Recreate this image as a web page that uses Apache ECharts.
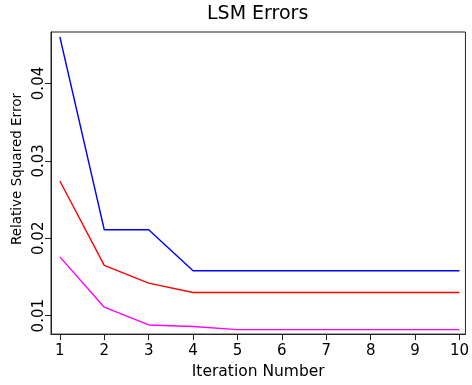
<!DOCTYPE html>
<html><head><meta charset="utf-8">
<script src="https://cdn.jsdelivr.net/npm/echarts@6/dist/echarts.min.js"></script>
<style>html,body{margin:0;padding:0;background:#fff}#c{width:472px;height:385px}</style>
</head><body><div id="c"></div>
<script>
var iterations = [1, 2, 3, 4, 5, 6, 7, 8, 9, 10];
var blueErrors = [0.0460, 0.0211, 0.0211, 0.0158, 0.0158, 0.0158, 0.0158, 0.0158, 0.0158, 0.0158];
var redErrors = [0.0274, 0.0165, 0.0142, 0.0130, 0.0130, 0.0130, 0.0130, 0.0130, 0.0130, 0.0130];
var magentaErrors = [0.0176, 0.0111, 0.0088, 0.0086, 0.0082, 0.0082, 0.0082, 0.0082, 0.0082, 0.0082];
var xTicks = [1, 2, 3, 4, 5, 6, 7, 8, 9, 10];
var yTicks = [0.01, 0.02, 0.03, 0.04];

function pairs(vals) { return iterations.map(function (x, i) { return [x, vals[i]]; }); }
var font = 'DejaVu Sans';
var chart = echarts.init(document.getElementById('c'));
chart.setOption({
  animation: false,
  backgroundColor: '#fff',
  title: {
    text: 'LSM Errors', left: 207, top: 5, padding: 0,
    textStyle: { fontFamily: font, fontSize: 19, fontWeight: 'normal', color: '#000' }
  },
  grid: { left: 51, right: 6, top: 32, bottom: 42, show: true, borderColor: '#222', borderWidth: 1, containLabel: false },
  xAxis: {
    type: 'value', min: 0.8, max: 10.135,
    name: 'Iteration Number', nameLocation: 'middle', nameGap: 27,
    nameTextStyle: { fontFamily: font, fontSize: 15.5, color: '#000' },
    axisLine: { show: true, onZero: false, lineStyle: { color: '#222' } },
    axisTick: { show: true, inside: false, length: 6, customValues: xTicks, lineStyle: { color: '#222' } },
    axisLabel: { customValues: xTicks, margin: 10, fontFamily: font, fontSize: 15, color: '#000' },
    splitLine: { show: false }
  },
  yAxis: {
    type: 'value', min: 0.00762, max: 0.04665,
    name: 'Relative Squared Error', nameLocation: 'middle', nameGap: 21, nameRotate: 90,
    nameTextStyle: { fontFamily: font, fontSize: 13.5, color: '#000', padding: [0, 0, 0, 28] },
    axisLine: { show: true, onZero: false, lineStyle: { color: '#222' } },
    axisTick: { show: true, inside: false, length: 6, customValues: yTicks, lineStyle: { color: '#222' } },
    axisLabel: { customValues: yTicks, rotate: 90, margin: 4, fontFamily: font, fontSize: 15, color: '#000',
      formatter: function (v) { return v.toFixed(2); } },
    splitLine: { show: false }
  },
  series: [
    { type: 'line', data: pairs(blueErrors), showSymbol: false, symbol: 'none', lineStyle: { color: '#0000ff', width: 1.4 }, itemStyle: { color: '#0000ff' } },
    { type: 'line', data: pairs(redErrors), showSymbol: false, symbol: 'none', lineStyle: { color: '#ff0000', width: 1.4 }, itemStyle: { color: '#ff0000' } },
    { type: 'line', data: pairs(magentaErrors), showSymbol: false, symbol: 'none', lineStyle: { color: '#ff00ff', width: 1.4 }, itemStyle: { color: '#ff00ff' } }
  ]
});
</script></body></html>
